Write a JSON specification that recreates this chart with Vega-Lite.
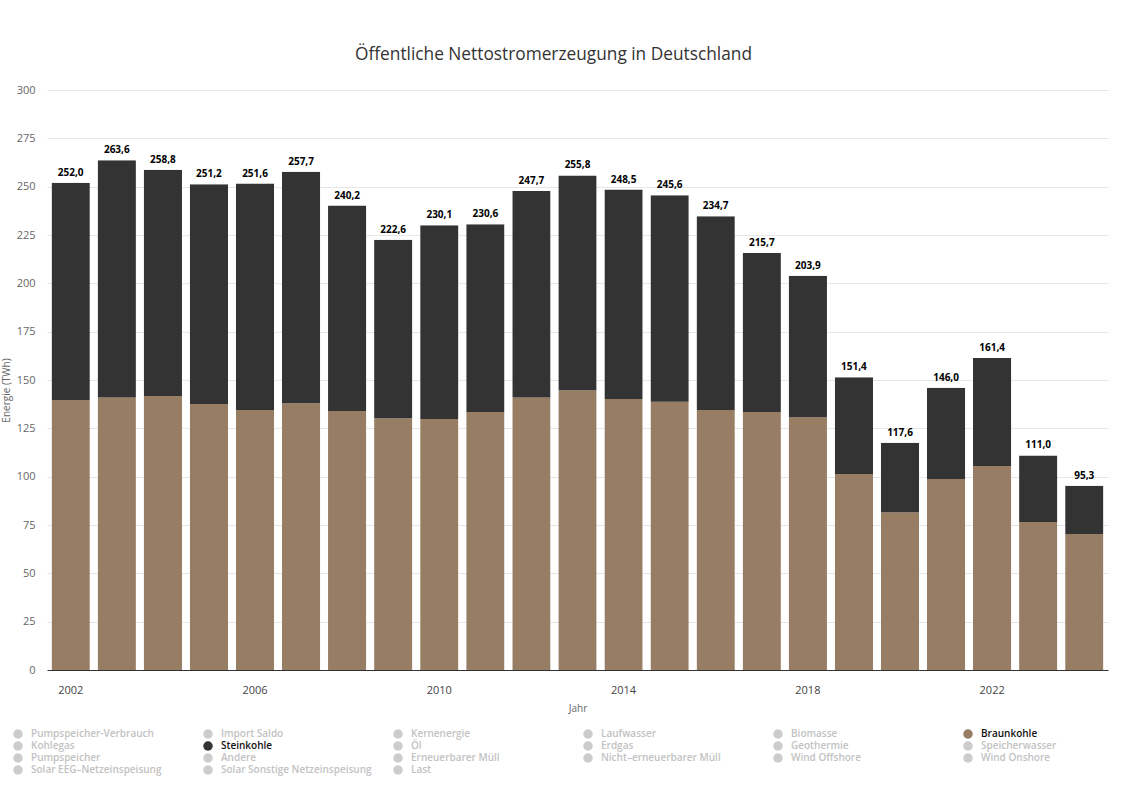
{
  "$schema": "https://vega.github.io/schema/vega-lite/v6.json",
  "autosize": "none",
  "width": 1061,
  "height": 580,
  "padding": {"left": 47, "top": 90, "right": 39, "bottom": 130},
  "title": {
    "text": "Öffentliche Nettostromerzeugung in Deutschland",
    "fontSize": 17.3,
    "font": "Open Sans",
    "fontWeight": "normal",
    "color": "#333333",
    "anchor": "middle",
    "dx": -24,
    "offset": 21
  },
  "config": {
    "view": {"stroke": null},
    "font": "Open Sans",
    "locale": {
      "number": {"decimal": ",", "thousands": ".", "grouping": [3], "currency": ["", " €"]}
    }
  },
  "data": {
    "values": [
      {"Jahr": 2002, "Quelle": "Braunkohle", "TWh": 139.7}, {"Jahr": 2002, "Quelle": "Steinkohle", "TWh": 112.3},
      {"Jahr": 2003, "Quelle": "Braunkohle", "TWh": 141.0}, {"Jahr": 2003, "Quelle": "Steinkohle", "TWh": 122.6},
      {"Jahr": 2004, "Quelle": "Braunkohle", "TWh": 141.7}, {"Jahr": 2004, "Quelle": "Steinkohle", "TWh": 117.1},
      {"Jahr": 2005, "Quelle": "Braunkohle", "TWh": 137.6}, {"Jahr": 2005, "Quelle": "Steinkohle", "TWh": 113.6},
      {"Jahr": 2006, "Quelle": "Braunkohle", "TWh": 134.5}, {"Jahr": 2006, "Quelle": "Steinkohle", "TWh": 117.1},
      {"Jahr": 2007, "Quelle": "Braunkohle", "TWh": 138.0}, {"Jahr": 2007, "Quelle": "Steinkohle", "TWh": 119.7},
      {"Jahr": 2008, "Quelle": "Braunkohle", "TWh": 134.0}, {"Jahr": 2008, "Quelle": "Steinkohle", "TWh": 106.2},
      {"Jahr": 2009, "Quelle": "Braunkohle", "TWh": 130.2}, {"Jahr": 2009, "Quelle": "Steinkohle", "TWh": 92.4},
      {"Jahr": 2010, "Quelle": "Braunkohle", "TWh": 129.8}, {"Jahr": 2010, "Quelle": "Steinkohle", "TWh": 100.3},
      {"Jahr": 2011, "Quelle": "Braunkohle", "TWh": 133.5}, {"Jahr": 2011, "Quelle": "Steinkohle", "TWh": 97.1},
      {"Jahr": 2012, "Quelle": "Braunkohle", "TWh": 141.0}, {"Jahr": 2012, "Quelle": "Steinkohle", "TWh": 106.7},
      {"Jahr": 2013, "Quelle": "Braunkohle", "TWh": 144.7}, {"Jahr": 2013, "Quelle": "Steinkohle", "TWh": 111.1},
      {"Jahr": 2014, "Quelle": "Braunkohle", "TWh": 140.2}, {"Jahr": 2014, "Quelle": "Steinkohle", "TWh": 108.3},
      {"Jahr": 2015, "Quelle": "Braunkohle", "TWh": 138.8}, {"Jahr": 2015, "Quelle": "Steinkohle", "TWh": 106.8},
      {"Jahr": 2016, "Quelle": "Braunkohle", "TWh": 134.5}, {"Jahr": 2016, "Quelle": "Steinkohle", "TWh": 100.2},
      {"Jahr": 2017, "Quelle": "Braunkohle", "TWh": 133.5}, {"Jahr": 2017, "Quelle": "Steinkohle", "TWh": 82.2},
      {"Jahr": 2018, "Quelle": "Braunkohle", "TWh": 130.7}, {"Jahr": 2018, "Quelle": "Steinkohle", "TWh": 73.2},
      {"Jahr": 2019, "Quelle": "Braunkohle", "TWh": 101.4}, {"Jahr": 2019, "Quelle": "Steinkohle", "TWh": 50.0},
      {"Jahr": 2020, "Quelle": "Braunkohle", "TWh": 81.6}, {"Jahr": 2020, "Quelle": "Steinkohle", "TWh": 36.0},
      {"Jahr": 2021, "Quelle": "Braunkohle", "TWh": 98.8}, {"Jahr": 2021, "Quelle": "Steinkohle", "TWh": 47.2},
      {"Jahr": 2022, "Quelle": "Braunkohle", "TWh": 105.5}, {"Jahr": 2022, "Quelle": "Steinkohle", "TWh": 55.9},
      {"Jahr": 2023, "Quelle": "Braunkohle", "TWh": 76.6}, {"Jahr": 2023, "Quelle": "Steinkohle", "TWh": 34.4},
      {"Jahr": 2024, "Quelle": "Braunkohle", "TWh": 70.4}, {"Jahr": 2024, "Quelle": "Steinkohle", "TWh": 24.9}
    ]
  },
  "encoding": {
    "x": {
      "field": "Jahr",
      "type": "ordinal",
      "scale": {"paddingInner": 0.17, "paddingOuter": 0.1},
      "axis": {
        "title": "Jahr",
        "values": [2002, 2006, 2010, 2014, 2018, 2022],
        "labelAngle": 0,
        "labelFontSize": 11,
        "labelColor": "#444444",
        "labelPadding": 14,
        "ticks": false,
        "domain": true,
        "domainColor": "#333333",
        "domainWidth": 1,
        "grid": false,
        "titleFontSize": 10,
        "titleFontWeight": "normal",
        "titleColor": "#666666",
        "titlePadding": 8
      }
    }
  },
  "layer": [
    {
      "mark": {
        "type": "bar",
        "cornerRadiusTopLeft": {"expr": "datum.Quelle === 'Steinkohle' ? 3 : 0"},
        "cornerRadiusTopRight": {"expr": "datum.Quelle === 'Steinkohle' ? 3 : 0"}
      },
      "encoding": {
        "y": {
          "field": "TWh",
          "type": "quantitative",
          "aggregate": "sum",
          "scale": {"domain": [0, 300], "nice": false},
          "axis": {
            "title": "Energie (TWh)",
            "values": [0, 25, 50, 75, 100, 125, 150, 175, 200, 225, 250, 275, 300],
            "labelFontSize": 11,
            "labelColor": "#666666",
            "labelPadding": 12,
            "ticks": false,
            "domain": false,
            "gridColor": "#e6e6e6",
            "gridWidth": 1,
            "titleFontSize": 10,
            "titleFontWeight": "normal",
            "titleColor": "#666666",
            "titleX": -36,
            "titleY": 300
          }
        },
        "color": {
          "field": "Quelle",
          "type": "nominal",
          "scale": {
            "domain": ["Pumpspeicher-Verbrauch", "Import Saldo", "Kernenergie", "Laufwasser", "Biomasse", "Braunkohle",
                       "Kohlegas", "Steinkohle", "Öl", "Erdgas", "Geothermie", "Speicherwasser",
                       "Pumpspeicher", "Andere", "Erneuerbarer Müll", "Nicht–erneuerbarer Müll", "Wind Offshore", "Wind Onshore",
                       "Solar EEG–Netzeinspeisung", "Solar Sonstige Netzeinspeisung", "Last"],
            "range": ["#cccccc", "#cccccc", "#cccccc", "#cccccc", "#cccccc", "#977d64",
                      "#cccccc", "#333333", "#cccccc", "#cccccc", "#cccccc", "#cccccc",
                      "#cccccc", "#cccccc", "#cccccc", "#cccccc", "#cccccc", "#cccccc",
                      "#cccccc", "#cccccc", "#cccccc"]
          },
          "legend": {
            "title": null,
            "orient": "none",
            "direction": "horizontal",
            "legendX": -34,
            "legendY": 639,
            "columns": 6,
            "gridAlign": "all",
            "columnPadding": 21,
            "rowPadding": 2,
            "symbolType": "circle",
            "symbolSize": 90,
            "symbolStrokeWidth": 0,
            "labelFontSize": 10,
            "labelFontWeight": 600,
            "labelOffset": 8,
            "labelLimit": 220,
            "encode": {
              "labels": {
                "update": {
                  "fill": {"signal": "indexof(['Braunkohle','Steinkohle'], datum.value) >= 0 ? '#111111' : '#c2c2c2'"}
                }
              }
            }
          }
        },
        "order": {"field": "Quelle", "sort": "ascending"}
      }
    },
    {
      "mark": {"type": "text", "fontWeight": "bold", "fontSize": 10, "color": "#000000", "baseline": "bottom", "dy": -5},
      "encoding": {
        "y": {"field": "TWh", "type": "quantitative", "aggregate": "sum"},
        "text": {"field": "TWh", "type": "quantitative", "aggregate": "sum", "format": ".1f"}
      }
    }
  ]
}
